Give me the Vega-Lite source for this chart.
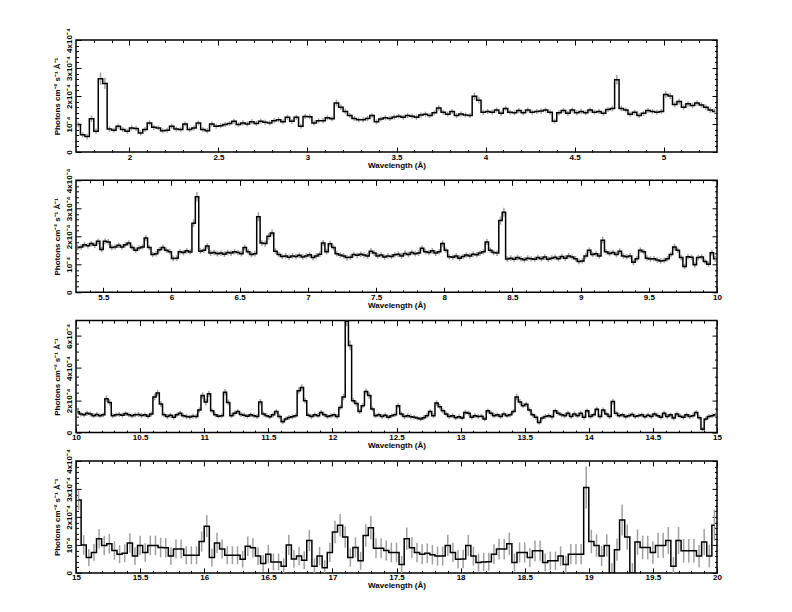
{
"$schema": "https://vega.github.io/schema/vega-lite/v6.json",
"background": "white",
"padding": {"left": 52, "top": 26, "right": 10, "bottom": 5},
"spacing": 28.3,
"bounds": "flush",
"config": {
  "view": {"stroke": "black", "strokeWidth": 1.5},
  "font": "Liberation Sans",
  "axis": {"labelFont": "Liberation Sans", "labelFontSize": 8, "labelFontWeight": "bold", "labelColor": "black", "titleFont": "Liberation Sans", "titleFontSize": 8, "titleFontWeight": "bold", "titleColor": "black", "grid": false, "domain": false, "tickColor": "black", "tickWidth": 1, "labelFlush": false, "labelOverlap": false}
},
"datasets": {
"p1": [
{"w":1.7125,"f":0.98e-4,"e":0.1e-4},{"w":1.7375,"f":0.62e-4,"e":0.1e-4},{"w":1.7625,"f":0.55e-4,"e":0.1e-4},{"w":1.7875,"f":1.19e-4,"e":0.12e-4},{"w":1.8125,"f":0.74e-4,"e":0.1e-4},{"w":1.8375,"f":2.62e-4,"e":0.22e-4},{"w":1.8625,"f":2.45e-4,"e":0.2e-4},{"w":1.8875,"f":0.82e-4,"e":0.1e-4},
{"w":1.9125,"f":0.78e-4,"e":0.09e-4},{"w":1.9375,"f":0.92e-4,"e":0.09e-4},{"w":1.9625,"f":0.8e-4,"e":0.09e-4},{"w":1.9875,"f":0.74e-4,"e":0.09e-4},{"w":2.0125,"f":0.86e-4,"e":0.09e-4},{"w":2.0375,"f":0.84e-4,"e":0.09e-4},{"w":2.0625,"f":0.68e-4,"e":0.09e-4},{"w":2.0875,"f":0.8e-4,"e":0.09e-4},
{"w":2.1125,"f":1.04e-4,"e":0.09e-4},{"w":2.1375,"f":0.88e-4,"e":0.09e-4},{"w":2.1625,"f":0.86e-4,"e":0.09e-4},{"w":2.1875,"f":0.76e-4,"e":0.09e-4},{"w":2.2125,"f":0.78e-4,"e":0.09e-4},{"w":2.2375,"f":0.92e-4,"e":0.09e-4},{"w":2.2625,"f":0.82e-4,"e":0.09e-4},{"w":2.2875,"f":0.8e-4,"e":0.09e-4},
{"w":2.3125,"f":1.0e-4,"e":0.09e-4},{"w":2.3375,"f":0.8e-4,"e":0.09e-4},{"w":2.3625,"f":0.86e-4,"e":0.09e-4},{"w":2.3875,"f":1.04e-4,"e":0.09e-4},{"w":2.4125,"f":0.8e-4,"e":0.09e-4},{"w":2.4375,"f":0.76e-4,"e":0.09e-4},{"w":2.4625,"f":1.0e-4,"e":0.09e-4},{"w":2.4875,"f":0.92e-4,"e":0.09e-4},
{"w":2.5125,"f":0.94e-4,"e":0.09e-4},{"w":2.5375,"f":0.98e-4,"e":0.09e-4},{"w":2.5625,"f":1.02e-4,"e":0.09e-4},{"w":2.5875,"f":1.1e-4,"e":0.09e-4},{"w":2.6125,"f":0.98e-4,"e":0.09e-4},{"w":2.6375,"f":1.04e-4,"e":0.09e-4},{"w":2.6625,"f":1.0e-4,"e":0.09e-4},{"w":2.6875,"f":1.08e-4,"e":0.09e-4},
{"w":2.7125,"f":1.02e-4,"e":0.09e-4},{"w":2.7375,"f":1.1e-4,"e":0.09e-4},{"w":2.7625,"f":1.06e-4,"e":0.09e-4},{"w":2.7875,"f":1.04e-4,"e":0.09e-4},{"w":2.8125,"f":1.12e-4,"e":0.09e-4},{"w":2.8375,"f":1.15e-4,"e":0.09e-4},{"w":2.8625,"f":1.08e-4,"e":0.09e-4},{"w":2.8875,"f":1.24e-4,"e":0.09e-4},
{"w":2.9125,"f":1.1e-4,"e":0.09e-4},{"w":2.9375,"f":1.24e-4,"e":0.09e-4},{"w":2.9625,"f":0.92e-4,"e":0.09e-4},{"w":2.9875,"f":1.27e-4,"e":0.09e-4},{"w":3.0125,"f":1.26e-4,"e":0.09e-4},{"w":3.0375,"f":1.04e-4,"e":0.09e-4},{"w":3.0625,"f":1.12e-4,"e":0.09e-4},{"w":3.0875,"f":1.12e-4,"e":0.09e-4},
{"w":3.1125,"f":1.22e-4,"e":0.09e-4},{"w":3.1375,"f":1.19e-4,"e":0.09e-4},{"w":3.1625,"f":1.75e-4,"e":0.12e-4},{"w":3.1875,"f":1.6e-4,"e":0.1e-4},{"w":3.2125,"f":1.45e-4,"e":0.1e-4},{"w":3.2375,"f":1.3e-4,"e":0.09e-4},{"w":3.2625,"f":1.2e-4,"e":0.09e-4},{"w":3.2875,"f":1.15e-4,"e":0.09e-4},
{"w":3.3125,"f":1.15e-4,"e":0.09e-4},{"w":3.3375,"f":1.2e-4,"e":0.09e-4},{"w":3.3625,"f":1.3e-4,"e":0.09e-4},{"w":3.3875,"f":1.08e-4,"e":0.09e-4},{"w":3.4125,"f":1.18e-4,"e":0.09e-4},{"w":3.4375,"f":1.22e-4,"e":0.09e-4},{"w":3.4625,"f":1.2e-4,"e":0.09e-4},{"w":3.4875,"f":1.25e-4,"e":0.09e-4},
{"w":3.5125,"f":1.28e-4,"e":0.09e-4},{"w":3.5375,"f":1.24e-4,"e":0.09e-4},{"w":3.5625,"f":1.3e-4,"e":0.09e-4},{"w":3.5875,"f":1.28e-4,"e":0.09e-4},{"w":3.6125,"f":1.24e-4,"e":0.09e-4},{"w":3.6375,"f":1.32e-4,"e":0.09e-4},{"w":3.6625,"f":1.35e-4,"e":0.09e-4},{"w":3.6875,"f":1.3e-4,"e":0.09e-4},
{"w":3.7125,"f":1.4e-4,"e":0.09e-4},{"w":3.7375,"f":1.57e-4,"e":0.1e-4},{"w":3.7625,"f":1.42e-4,"e":0.09e-4},{"w":3.7875,"f":1.35e-4,"e":0.09e-4},{"w":3.8125,"f":1.45e-4,"e":0.09e-4},{"w":3.8375,"f":1.3e-4,"e":0.09e-4},{"w":3.8625,"f":1.36e-4,"e":0.09e-4},{"w":3.8875,"f":1.32e-4,"e":0.09e-4},
{"w":3.9125,"f":1.3e-4,"e":0.09e-4},{"w":3.9375,"f":1.99e-4,"e":0.13e-4},{"w":3.9625,"f":1.85e-4,"e":0.12e-4},{"w":3.9875,"f":1.42e-4,"e":0.09e-4},{"w":4.0125,"f":1.45e-4,"e":0.09e-4},{"w":4.0375,"f":1.42e-4,"e":0.09e-4},{"w":4.0625,"f":1.5e-4,"e":0.09e-4},{"w":4.0875,"f":1.38e-4,"e":0.09e-4},
{"w":4.1125,"f":1.55e-4,"e":0.09e-4},{"w":4.1375,"f":1.42e-4,"e":0.09e-4},{"w":4.1625,"f":1.4e-4,"e":0.09e-4},{"w":4.1875,"f":1.48e-4,"e":0.09e-4},{"w":4.2125,"f":1.4e-4,"e":0.09e-4},{"w":4.2375,"f":1.5e-4,"e":0.09e-4},{"w":4.2625,"f":1.42e-4,"e":0.09e-4},{"w":4.2875,"f":1.45e-4,"e":0.09e-4},
{"w":4.3125,"f":1.46e-4,"e":0.09e-4},{"w":4.3375,"f":1.5e-4,"e":0.09e-4},{"w":4.3625,"f":1.42e-4,"e":0.09e-4},{"w":4.3875,"f":1.1e-4,"e":0.09e-4},{"w":4.4125,"f":1.4e-4,"e":0.09e-4},{"w":4.4375,"f":1.48e-4,"e":0.09e-4},{"w":4.4625,"f":1.38e-4,"e":0.09e-4},{"w":4.4875,"f":1.5e-4,"e":0.09e-4},
{"w":4.5125,"f":1.4e-4,"e":0.09e-4},{"w":4.5375,"f":1.45e-4,"e":0.09e-4},{"w":4.5625,"f":1.4e-4,"e":0.09e-4},{"w":4.5875,"f":1.5e-4,"e":0.09e-4},{"w":4.6125,"f":1.42e-4,"e":0.09e-4},{"w":4.6375,"f":1.45e-4,"e":0.09e-4},{"w":4.6625,"f":1.38e-4,"e":0.09e-4},{"w":4.6875,"f":1.52e-4,"e":0.09e-4},
{"w":4.7125,"f":1.55e-4,"e":0.1e-4},{"w":4.7375,"f":2.58e-4,"e":0.17e-4},{"w":4.7625,"f":1.55e-4,"e":0.1e-4},{"w":4.7875,"f":1.5e-4,"e":0.09e-4},{"w":4.8125,"f":1.35e-4,"e":0.09e-4},{"w":4.8375,"f":1.42e-4,"e":0.09e-4},{"w":4.8625,"f":1.3e-4,"e":0.09e-4},{"w":4.8875,"f":1.38e-4,"e":0.09e-4},
{"w":4.9125,"f":1.48e-4,"e":0.09e-4},{"w":4.9375,"f":1.45e-4,"e":0.09e-4},{"w":4.9625,"f":1.42e-4,"e":0.09e-4},{"w":4.9875,"f":1.45e-4,"e":0.09e-4},{"w":5.0125,"f":2.05e-4,"e":0.12e-4},{"w":5.0375,"f":2.0e-4,"e":0.12e-4},{"w":5.0625,"f":1.7e-4,"e":0.1e-4},{"w":5.0875,"f":1.8e-4,"e":0.1e-4},
{"w":5.1125,"f":1.6e-4,"e":0.1e-4},{"w":5.1375,"f":1.72e-4,"e":0.1e-4},{"w":5.1625,"f":1.66e-4,"e":0.1e-4},{"w":5.1875,"f":1.75e-4,"e":0.1e-4},{"w":5.2125,"f":1.68e-4,"e":0.1e-4},{"w":5.2375,"f":1.6e-4,"e":0.1e-4},{"w":5.2625,"f":1.5e-4,"e":0.1e-4},{"w":5.2875,"f":1.45e-4,"e":0.1e-4}
],
"p2": [
{"w":5.3125,"f":1.6e-4,"e":0.1e-4},{"w":5.3375,"f":1.62e-4,"e":0.1e-4},{"w":5.3625,"f":1.7e-4,"e":0.1e-4},{"w":5.3875,"f":1.66e-4,"e":0.1e-4},{"w":5.4125,"f":1.74e-4,"e":0.1e-4},{"w":5.4375,"f":1.68e-4,"e":0.1e-4},{"w":5.4625,"f":1.82e-4,"e":0.1e-4},{"w":5.4875,"f":1.53e-4,"e":0.1e-4},
{"w":5.5125,"f":1.82e-4,"e":0.1e-4},{"w":5.5375,"f":1.8e-4,"e":0.1e-4},{"w":5.5625,"f":1.6e-4,"e":0.1e-4},{"w":5.5875,"f":1.62e-4,"e":0.1e-4},{"w":5.6125,"f":1.68e-4,"e":0.1e-4},{"w":5.6375,"f":1.62e-4,"e":0.1e-4},{"w":5.6625,"f":1.7e-4,"e":0.1e-4},{"w":5.6875,"f":1.76e-4,"e":0.1e-4},
{"w":5.7125,"f":1.6e-4,"e":0.1e-4},{"w":5.7375,"f":1.5e-4,"e":0.1e-4},{"w":5.7625,"f":1.58e-4,"e":0.1e-4},{"w":5.7875,"f":1.62e-4,"e":0.1e-4},{"w":5.8125,"f":1.94e-4,"e":0.11e-4},{"w":5.8375,"f":1.6e-4,"e":0.1e-4},{"w":5.8625,"f":1.35e-4,"e":0.1e-4},{"w":5.8875,"f":1.38e-4,"e":0.1e-4},
{"w":5.9125,"f":1.52e-4,"e":0.1e-4},{"w":5.9375,"f":1.6e-4,"e":0.1e-4},{"w":5.9625,"f":1.5e-4,"e":0.1e-4},{"w":5.9875,"f":1.45e-4,"e":0.1e-4},{"w":6.0125,"f":1.21e-4,"e":0.1e-4},{"w":6.0375,"f":1.22e-4,"e":0.1e-4},{"w":6.0625,"f":1.45e-4,"e":0.1e-4},{"w":6.0875,"f":1.42e-4,"e":0.1e-4},
{"w":6.1125,"f":1.48e-4,"e":0.1e-4},{"w":6.1375,"f":1.44e-4,"e":0.1e-4},{"w":6.1625,"f":2.47e-4,"e":0.14e-4},{"w":6.1875,"f":3.41e-4,"e":0.17e-4},{"w":6.2125,"f":1.47e-4,"e":0.1e-4},{"w":6.2375,"f":1.5e-4,"e":0.1e-4},{"w":6.2625,"f":1.65e-4,"e":0.1e-4},{"w":6.2875,"f":1.4e-4,"e":0.1e-4},
{"w":6.3125,"f":1.42e-4,"e":0.1e-4},{"w":6.3375,"f":1.38e-4,"e":0.1e-4},{"w":6.3625,"f":1.4e-4,"e":0.1e-4},{"w":6.3875,"f":1.36e-4,"e":0.1e-4},{"w":6.4125,"f":1.42e-4,"e":0.1e-4},{"w":6.4375,"f":1.4e-4,"e":0.1e-4},{"w":6.4625,"f":1.45e-4,"e":0.1e-4},{"w":6.4875,"f":1.42e-4,"e":0.1e-4},
{"w":6.5125,"f":1.38e-4,"e":0.1e-4},{"w":6.5375,"f":1.6e-4,"e":0.1e-4},{"w":6.5625,"f":1.45e-4,"e":0.1e-4},{"w":6.5875,"f":1.35e-4,"e":0.1e-4},{"w":6.6125,"f":1.38e-4,"e":0.1e-4},{"w":6.6375,"f":2.7e-4,"e":0.16e-4},{"w":6.6625,"f":1.76e-4,"e":0.11e-4},{"w":6.6875,"f":1.74e-4,"e":0.11e-4},
{"w":6.7125,"f":2.0e-4,"e":0.12e-4},{"w":6.7375,"f":2.12e-4,"e":0.12e-4},{"w":6.7625,"f":1.47e-4,"e":0.1e-4},{"w":6.7875,"f":1.35e-4,"e":0.1e-4},{"w":6.8125,"f":1.28e-4,"e":0.1e-4},{"w":6.8375,"f":1.3e-4,"e":0.1e-4},{"w":6.8625,"f":1.25e-4,"e":0.1e-4},{"w":6.8875,"f":1.3e-4,"e":0.1e-4},
{"w":6.9125,"f":1.28e-4,"e":0.1e-4},{"w":6.9375,"f":1.32e-4,"e":0.1e-4},{"w":6.9625,"f":1.26e-4,"e":0.1e-4},{"w":6.9875,"f":1.3e-4,"e":0.1e-4},{"w":7.0125,"f":1.34e-4,"e":0.1e-4},{"w":7.0375,"f":1.24e-4,"e":0.1e-4},{"w":7.0625,"f":1.3e-4,"e":0.1e-4},{"w":7.0875,"f":1.36e-4,"e":0.1e-4},
{"w":7.1125,"f":1.76e-4,"e":0.11e-4},{"w":7.1375,"f":1.45e-4,"e":0.1e-4},{"w":7.1625,"f":1.73e-4,"e":0.11e-4},{"w":7.1875,"f":1.6e-4,"e":0.1e-4},{"w":7.2125,"f":1.38e-4,"e":0.1e-4},{"w":7.2375,"f":1.33e-4,"e":0.1e-4},{"w":7.2625,"f":1.3e-4,"e":0.1e-4},{"w":7.2875,"f":1.24e-4,"e":0.1e-4},
{"w":7.3125,"f":1.25e-4,"e":0.1e-4},{"w":7.3375,"f":1.35e-4,"e":0.1e-4},{"w":7.3625,"f":1.32e-4,"e":0.1e-4},{"w":7.3875,"f":1.36e-4,"e":0.1e-4},{"w":7.4125,"f":1.33e-4,"e":0.1e-4},{"w":7.4375,"f":1.3e-4,"e":0.1e-4},{"w":7.4625,"f":1.47e-4,"e":0.1e-4},{"w":7.4875,"f":1.4e-4,"e":0.1e-4},
{"w":7.5125,"f":1.3e-4,"e":0.1e-4},{"w":7.5375,"f":1.33e-4,"e":0.1e-4},{"w":7.5625,"f":1.26e-4,"e":0.1e-4},{"w":7.5875,"f":1.3e-4,"e":0.1e-4},{"w":7.6125,"f":1.28e-4,"e":0.1e-4},{"w":7.6375,"f":1.34e-4,"e":0.1e-4},{"w":7.6625,"f":1.36e-4,"e":0.1e-4},{"w":7.6875,"f":1.3e-4,"e":0.1e-4},
{"w":7.7125,"f":1.39e-4,"e":0.1e-4},{"w":7.7375,"f":1.35e-4,"e":0.1e-4},{"w":7.7625,"f":1.42e-4,"e":0.1e-4},{"w":7.7875,"f":1.38e-4,"e":0.1e-4},{"w":7.8125,"f":1.4e-4,"e":0.1e-4},{"w":7.8375,"f":1.57e-4,"e":0.1e-4},{"w":7.8625,"f":1.45e-4,"e":0.1e-4},{"w":7.8875,"f":1.42e-4,"e":0.1e-4},
{"w":7.9125,"f":1.48e-4,"e":0.1e-4},{"w":7.9375,"f":1.4e-4,"e":0.1e-4},{"w":7.9625,"f":1.45e-4,"e":0.1e-4},{"w":7.9875,"f":1.74e-4,"e":0.11e-4},{"w":8.0125,"f":1.5e-4,"e":0.1e-4},{"w":8.0375,"f":1.27e-4,"e":0.1e-4},{"w":8.0625,"f":1.25e-4,"e":0.1e-4},{"w":8.0875,"f":1.3e-4,"e":0.1e-4},
{"w":8.1125,"f":1.22e-4,"e":0.1e-4},{"w":8.1375,"f":1.28e-4,"e":0.1e-4},{"w":8.1625,"f":1.33e-4,"e":0.1e-4},{"w":8.1875,"f":1.3e-4,"e":0.1e-4},{"w":8.2125,"f":1.36e-4,"e":0.1e-4},{"w":8.2375,"f":1.34e-4,"e":0.1e-4},{"w":8.2625,"f":1.4e-4,"e":0.1e-4},{"w":8.2875,"f":1.45e-4,"e":0.1e-4},
{"w":8.3125,"f":1.8e-4,"e":0.11e-4},{"w":8.3375,"f":1.5e-4,"e":0.1e-4},{"w":8.3625,"f":1.42e-4,"e":0.1e-4},{"w":8.3875,"f":1.4e-4,"e":0.1e-4},{"w":8.4125,"f":2.56e-4,"e":0.15e-4},{"w":8.4375,"f":2.86e-4,"e":0.16e-4},{"w":8.4625,"f":1.19e-4,"e":0.1e-4},{"w":8.4875,"f":1.22e-4,"e":0.1e-4},
{"w":8.5125,"f":1.18e-4,"e":0.1e-4},{"w":8.5375,"f":1.24e-4,"e":0.1e-4},{"w":8.5625,"f":1.2e-4,"e":0.1e-4},{"w":8.5875,"f":1.16e-4,"e":0.1e-4},{"w":8.6125,"f":1.22e-4,"e":0.1e-4},{"w":8.6375,"f":1.2e-4,"e":0.1e-4},{"w":8.6625,"f":1.18e-4,"e":0.1e-4},{"w":8.6875,"f":1.24e-4,"e":0.1e-4},
{"w":8.7125,"f":1.2e-4,"e":0.1e-4},{"w":8.7375,"f":1.26e-4,"e":0.1e-4},{"w":8.7625,"f":1.18e-4,"e":0.1e-4},{"w":8.7875,"f":1.22e-4,"e":0.1e-4},{"w":8.8125,"f":1.25e-4,"e":0.1e-4},{"w":8.8375,"f":1.2e-4,"e":0.1e-4},{"w":8.8625,"f":1.28e-4,"e":0.1e-4},{"w":8.8875,"f":1.22e-4,"e":0.1e-4},
{"w":8.9125,"f":1.3e-4,"e":0.1e-4},{"w":8.9375,"f":1.26e-4,"e":0.1e-4},{"w":8.9625,"f":1.2e-4,"e":0.1e-4},{"w":8.9875,"f":1.1e-4,"e":0.1e-4},{"w":9.0125,"f":1.12e-4,"e":0.1e-4},{"w":9.0375,"f":1.3e-4,"e":0.1e-4},{"w":9.0625,"f":1.5e-4,"e":0.1e-4},{"w":9.0875,"f":1.35e-4,"e":0.1e-4},
{"w":9.1125,"f":1.38e-4,"e":0.1e-4},{"w":9.1375,"f":1.3e-4,"e":0.1e-4},{"w":9.1625,"f":1.86e-4,"e":0.12e-4},{"w":9.1875,"f":1.45e-4,"e":0.1e-4},{"w":9.2125,"f":1.39e-4,"e":0.1e-4},{"w":9.2375,"f":1.42e-4,"e":0.1e-4},{"w":9.2625,"f":1.35e-4,"e":0.1e-4},{"w":9.2875,"f":1.47e-4,"e":0.1e-4},
{"w":9.3125,"f":1.3e-4,"e":0.1e-4},{"w":9.3375,"f":1.27e-4,"e":0.1e-4},{"w":9.3625,"f":1.3e-4,"e":0.1e-4},{"w":9.3875,"f":1.07e-4,"e":0.1e-4},{"w":9.4125,"f":1.2e-4,"e":0.1e-4},{"w":9.4375,"f":1.5e-4,"e":0.1e-4},{"w":9.4625,"f":1.45e-4,"e":0.1e-4},{"w":9.4875,"f":1.22e-4,"e":0.1e-4},
{"w":9.5125,"f":1.19e-4,"e":0.1e-4},{"w":9.5375,"f":1.2e-4,"e":0.1e-4},{"w":9.5625,"f":1.15e-4,"e":0.1e-4},{"w":9.5875,"f":1.12e-4,"e":0.1e-4},{"w":9.6125,"f":1.14e-4,"e":0.1e-4},{"w":9.6375,"f":1.2e-4,"e":0.1e-4},{"w":9.6625,"f":1.35e-4,"e":0.1e-4},{"w":9.6875,"f":1.62e-4,"e":0.11e-4},
{"w":9.7125,"f":1.5e-4,"e":0.1e-4},{"w":9.7375,"f":1.24e-4,"e":0.1e-4},{"w":9.7625,"f":0.92e-4,"e":0.1e-4},{"w":9.7875,"f":1.27e-4,"e":0.1e-4},{"w":9.8125,"f":1.25e-4,"e":0.1e-4},{"w":9.8375,"f":0.98e-4,"e":0.1e-4},{"w":9.8625,"f":1.24e-4,"e":0.1e-4},{"w":9.8875,"f":1.26e-4,"e":0.1e-4},
{"w":9.9125,"f":1.1e-4,"e":0.1e-4},{"w":9.9375,"f":1.0e-4,"e":0.1e-4},{"w":9.9625,"f":1.41e-4,"e":0.1e-4},{"w":9.9875,"f":1.2e-4,"e":0.1e-4}
],
"p3": [
{"w":10.0125,"f":1.29e-4,"e":0.15e-4},{"w":10.0375,"f":1.15e-4,"e":0.15e-4},{"w":10.0625,"f":1.1e-4,"e":0.15e-4},{"w":10.0875,"f":1.2e-4,"e":0.15e-4},{"w":10.1125,"f":1.15e-4,"e":0.15e-4},{"w":10.1375,"f":1.05e-4,"e":0.15e-4},{"w":10.1625,"f":1.12e-4,"e":0.15e-4},{"w":10.1875,"f":1.05e-4,"e":0.15e-4},
{"w":10.2125,"f":1.1e-4,"e":0.15e-4},{"w":10.2375,"f":2.1e-4,"e":0.2e-4},{"w":10.2625,"f":1.87e-4,"e":0.2e-4},{"w":10.2875,"f":1.05e-4,"e":0.15e-4},{"w":10.3125,"f":1.1e-4,"e":0.15e-4},{"w":10.3375,"f":1.12e-4,"e":0.15e-4},{"w":10.3625,"f":1.08e-4,"e":0.15e-4},{"w":10.3875,"f":1.18e-4,"e":0.15e-4},
{"w":10.4125,"f":1.1e-4,"e":0.15e-4},{"w":10.4375,"f":1.04e-4,"e":0.15e-4},{"w":10.4625,"f":1.1e-4,"e":0.15e-4},{"w":10.4875,"f":1.12e-4,"e":0.15e-4},{"w":10.5125,"f":1.06e-4,"e":0.15e-4},{"w":10.5375,"f":1.1e-4,"e":0.15e-4},{"w":10.5625,"f":1.02e-4,"e":0.15e-4},{"w":10.5875,"f":1.15e-4,"e":0.15e-4},
{"w":10.6125,"f":2.2e-4,"e":0.2e-4},{"w":10.6375,"f":2.45e-4,"e":0.2e-4},{"w":10.6625,"f":1.77e-4,"e":0.18e-4},{"w":10.6875,"f":1.1e-4,"e":0.15e-4},{"w":10.7125,"f":1.0e-4,"e":0.15e-4},{"w":10.7375,"f":1.08e-4,"e":0.15e-4},{"w":10.7625,"f":0.95e-4,"e":0.15e-4},{"w":10.7875,"f":1.1e-4,"e":0.15e-4},
{"w":10.8125,"f":1.2e-4,"e":0.15e-4},{"w":10.8375,"f":1.05e-4,"e":0.15e-4},{"w":10.8625,"f":1.0e-4,"e":0.15e-4},{"w":10.8875,"f":0.96e-4,"e":0.15e-4},{"w":10.9125,"f":1.02e-4,"e":0.15e-4},{"w":10.9375,"f":1.0e-4,"e":0.15e-4},{"w":10.9625,"f":1.4e-4,"e":0.15e-4},{"w":10.9875,"f":2.3e-4,"e":0.2e-4},
{"w":11.0125,"f":1.9e-4,"e":0.2e-4},{"w":11.0375,"f":2.4e-4,"e":0.2e-4},{"w":11.0625,"f":1.35e-4,"e":0.15e-4},{"w":11.0875,"f":1.1e-4,"e":0.15e-4},{"w":11.1125,"f":1.02e-4,"e":0.15e-4},{"w":11.1375,"f":1.05e-4,"e":0.15e-4},{"w":11.1625,"f":2.5e-4,"e":0.2e-4},{"w":11.1875,"f":1.87e-4,"e":0.18e-4},
{"w":11.2125,"f":1.05e-4,"e":0.15e-4},{"w":11.2375,"f":1.2e-4,"e":0.15e-4},{"w":11.2625,"f":1.3e-4,"e":0.15e-4},{"w":11.2875,"f":1.12e-4,"e":0.15e-4},{"w":11.3125,"f":1.08e-4,"e":0.15e-4},{"w":11.3375,"f":1.02e-4,"e":0.15e-4},{"w":11.3625,"f":1.1e-4,"e":0.15e-4},{"w":11.3875,"f":1.05e-4,"e":0.15e-4},
{"w":11.4125,"f":1.0e-4,"e":0.15e-4},{"w":11.4375,"f":1.9e-4,"e":0.18e-4},{"w":11.4625,"f":1.15e-4,"e":0.15e-4},{"w":11.4875,"f":1.05e-4,"e":0.15e-4},{"w":11.5125,"f":0.98e-4,"e":0.15e-4},{"w":11.5375,"f":1.1e-4,"e":0.15e-4},{"w":11.5625,"f":1.3e-4,"e":0.15e-4},{"w":11.5875,"f":1.0e-4,"e":0.15e-4},
{"w":11.6125,"f":0.67e-4,"e":0.14e-4},{"w":11.6375,"f":0.85e-4,"e":0.14e-4},{"w":11.6625,"f":0.94e-4,"e":0.15e-4},{"w":11.6875,"f":0.98e-4,"e":0.15e-4},{"w":11.7125,"f":1.05e-4,"e":0.15e-4},{"w":11.7375,"f":2.6e-4,"e":0.2e-4},{"w":11.7625,"f":2.8e-4,"e":0.2e-4},{"w":11.7875,"f":1.98e-4,"e":0.18e-4},
{"w":11.8125,"f":1.08e-4,"e":0.15e-4},{"w":11.8375,"f":1.0e-4,"e":0.15e-4},{"w":11.8625,"f":1.1e-4,"e":0.15e-4},{"w":11.8875,"f":1.05e-4,"e":0.15e-4},{"w":11.9125,"f":1.25e-4,"e":0.15e-4},{"w":11.9375,"f":1.1e-4,"e":0.15e-4},{"w":11.9625,"f":1.0e-4,"e":0.15e-4},{"w":11.9875,"f":1.05e-4,"e":0.15e-4},
{"w":12.0125,"f":1.1e-4,"e":0.15e-4},{"w":12.0375,"f":1.0e-4,"e":0.15e-4},{"w":12.0625,"f":1.56e-4,"e":0.16e-4},{"w":12.0875,"f":2.2e-4,"e":0.2e-4},{"w":12.1125,"f":6.9e-4,"e":0.3e-4},{"w":12.1375,"f":5.4e-4,"e":0.3e-4},{"w":12.1625,"f":1.98e-4,"e":0.18e-4},{"w":12.1875,"f":1.8e-4,"e":0.18e-4},
{"w":12.2125,"f":1.3e-4,"e":0.15e-4},{"w":12.2375,"f":1.67e-4,"e":0.16e-4},{"w":12.2625,"f":2.54e-4,"e":0.2e-4},{"w":12.2875,"f":2.3e-4,"e":0.2e-4},{"w":12.3125,"f":1.46e-4,"e":0.15e-4},{"w":12.3375,"f":1.05e-4,"e":0.15e-4},{"w":12.3625,"f":1.1e-4,"e":0.15e-4},{"w":12.3875,"f":1.0e-4,"e":0.15e-4},
{"w":12.4125,"f":1.08e-4,"e":0.15e-4},{"w":12.4375,"f":0.95e-4,"e":0.15e-4},{"w":12.4625,"f":1.04e-4,"e":0.15e-4},{"w":12.4875,"f":1.1e-4,"e":0.15e-4},{"w":12.5125,"f":1.67e-4,"e":0.16e-4},{"w":12.5375,"f":1.15e-4,"e":0.15e-4},{"w":12.5625,"f":1.0e-4,"e":0.15e-4},{"w":12.5875,"f":1.05e-4,"e":0.15e-4},
{"w":12.6125,"f":0.98e-4,"e":0.15e-4},{"w":12.6375,"f":0.95e-4,"e":0.15e-4},{"w":12.6625,"f":0.9e-4,"e":0.15e-4},{"w":12.6875,"f":0.85e-4,"e":0.15e-4},{"w":12.7125,"f":0.92e-4,"e":0.15e-4},{"w":12.7375,"f":1.05e-4,"e":0.15e-4},{"w":12.7625,"f":1.3e-4,"e":0.15e-4},{"w":12.7875,"f":1.05e-4,"e":0.15e-4},
{"w":12.8125,"f":1.83e-4,"e":0.18e-4},{"w":12.8375,"f":1.6e-4,"e":0.16e-4},{"w":12.8625,"f":1.35e-4,"e":0.15e-4},{"w":12.8875,"f":1.15e-4,"e":0.15e-4},{"w":12.9125,"f":1.0e-4,"e":0.15e-4},{"w":12.9375,"f":1.05e-4,"e":0.15e-4},{"w":12.9625,"f":0.92e-4,"e":0.15e-4},{"w":12.9875,"f":0.98e-4,"e":0.15e-4},
{"w":13.0125,"f":0.9e-4,"e":0.15e-4},{"w":13.0375,"f":1.25e-4,"e":0.15e-4},{"w":13.0625,"f":1.2e-4,"e":0.15e-4},{"w":13.0875,"f":0.95e-4,"e":0.15e-4},{"w":13.1125,"f":1.05e-4,"e":0.15e-4},{"w":13.1375,"f":1.0e-4,"e":0.15e-4},{"w":13.1625,"f":1.02e-4,"e":0.15e-4},{"w":13.1875,"f":0.85e-4,"e":0.15e-4},
{"w":13.2125,"f":1.35e-4,"e":0.15e-4},{"w":13.2375,"f":1.2e-4,"e":0.15e-4},{"w":13.2625,"f":1.05e-4,"e":0.15e-4},{"w":13.2875,"f":1.1e-4,"e":0.15e-4},{"w":13.3125,"f":1.0e-4,"e":0.15e-4},{"w":13.3375,"f":1.15e-4,"e":0.15e-4},{"w":13.3625,"f":1.05e-4,"e":0.15e-4},{"w":13.3875,"f":1.1e-4,"e":0.15e-4},
{"w":13.4125,"f":1.3e-4,"e":0.15e-4},{"w":13.4375,"f":2.2e-4,"e":0.2e-4},{"w":13.4625,"f":1.9e-4,"e":0.18e-4},{"w":13.4875,"f":1.67e-4,"e":0.16e-4},{"w":13.5125,"f":1.75e-4,"e":0.16e-4},{"w":13.5375,"f":1.4e-4,"e":0.15e-4},{"w":13.5625,"f":1.1e-4,"e":0.15e-4},{"w":13.5875,"f":0.95e-4,"e":0.15e-4},
{"w":13.6125,"f":0.62e-4,"e":0.14e-4},{"w":13.6375,"f":0.9e-4,"e":0.15e-4},{"w":13.6625,"f":1.0e-4,"e":0.15e-4},{"w":13.6875,"f":1.05e-4,"e":0.15e-4},{"w":13.7125,"f":0.98e-4,"e":0.15e-4},{"w":13.7375,"f":1.35e-4,"e":0.15e-4},{"w":13.7625,"f":1.2e-4,"e":0.15e-4},{"w":13.7875,"f":1.1e-4,"e":0.15e-4},
{"w":13.8125,"f":1.05e-4,"e":0.15e-4},{"w":13.8375,"f":1.2e-4,"e":0.15e-4},{"w":13.8625,"f":1.0e-4,"e":0.15e-4},{"w":13.8875,"f":1.15e-4,"e":0.15e-4},{"w":13.9125,"f":1.05e-4,"e":0.15e-4},{"w":13.9375,"f":1.2e-4,"e":0.15e-4},{"w":13.9625,"f":0.95e-4,"e":0.15e-4},{"w":13.9875,"f":1.35e-4,"e":0.15e-4},
{"w":14.0125,"f":1.0e-4,"e":0.15e-4},{"w":14.0375,"f":1.1e-4,"e":0.15e-4},{"w":14.0625,"f":1.45e-4,"e":0.15e-4},{"w":14.0875,"f":1.0e-4,"e":0.15e-4},{"w":14.1125,"f":1.4e-4,"e":0.15e-4},{"w":14.1375,"f":1.15e-4,"e":0.15e-4},{"w":14.1625,"f":1.0e-4,"e":0.15e-4},{"w":14.1875,"f":1.92e-4,"e":0.18e-4},
{"w":14.2125,"f":1.2e-4,"e":0.15e-4},{"w":14.2375,"f":1.05e-4,"e":0.15e-4},{"w":14.2625,"f":1.1e-4,"e":0.15e-4},{"w":14.2875,"f":0.98e-4,"e":0.15e-4},{"w":14.3125,"f":1.05e-4,"e":0.15e-4},{"w":14.3375,"f":1.12e-4,"e":0.15e-4},{"w":14.3625,"f":1.0e-4,"e":0.15e-4},{"w":14.3875,"f":1.05e-4,"e":0.15e-4},
{"w":14.4125,"f":1.1e-4,"e":0.15e-4},{"w":14.4375,"f":0.98e-4,"e":0.15e-4},{"w":14.4625,"f":1.08e-4,"e":0.15e-4},{"w":14.4875,"f":1.0e-4,"e":0.15e-4},{"w":14.5125,"f":1.15e-4,"e":0.15e-4},{"w":14.5375,"f":1.05e-4,"e":0.15e-4},{"w":14.5625,"f":0.95e-4,"e":0.15e-4},{"w":14.5875,"f":1.2e-4,"e":0.15e-4},
{"w":14.6125,"f":1.0e-4,"e":0.15e-4},{"w":14.6375,"f":1.1e-4,"e":0.15e-4},{"w":14.6625,"f":0.9e-4,"e":0.15e-4},{"w":14.6875,"f":1.15e-4,"e":0.15e-4},{"w":14.7125,"f":1.02e-4,"e":0.15e-4},{"w":14.7375,"f":0.95e-4,"e":0.15e-4},{"w":14.7625,"f":1.1e-4,"e":0.15e-4},{"w":14.7875,"f":1.0e-4,"e":0.15e-4},
{"w":14.8125,"f":1.05e-4,"e":0.15e-4},{"w":14.8375,"f":1.25e-4,"e":0.15e-4},{"w":14.8625,"f":0.92e-4,"e":0.15e-4},{"w":14.8875,"f":0.2e-4,"e":0.14e-4},{"w":14.9125,"f":0.85e-4,"e":0.15e-4},{"w":14.9375,"f":1.0e-4,"e":0.15e-4},{"w":14.9625,"f":1.05e-4,"e":0.15e-4},{"w":14.9875,"f":1.1e-4,"e":0.15e-4}
],
"p4": [
{"w":15.02,"f":2.6e-4,"e":0.35e-4},{"w":15.06,"f":1.0e-4,"e":0.35e-4},{"w":15.10,"f":0.55e-4,"e":0.3e-4},{"w":15.14,"f":0.73e-4,"e":0.3e-4},{"w":15.18,"f":1.22e-4,"e":0.35e-4},{"w":15.22,"f":0.98e-4,"e":0.35e-4},{"w":15.26,"f":1.04e-4,"e":0.35e-4},{"w":15.30,"f":0.8e-4,"e":0.33e-4},
{"w":15.34,"f":0.67e-4,"e":0.32e-4},{"w":15.38,"f":0.7e-4,"e":0.32e-4},{"w":15.42,"f":1.07e-4,"e":0.35e-4},{"w":15.46,"f":0.6e-4,"e":0.32e-4},{"w":15.50,"f":0.98e-4,"e":0.35e-4},{"w":15.54,"f":0.73e-4,"e":0.33e-4},{"w":15.58,"f":0.98e-4,"e":0.35e-4},{"w":15.62,"f":0.98e-4,"e":0.35e-4},
{"w":15.66,"f":0.91e-4,"e":0.35e-4},{"w":15.70,"f":0.9e-4,"e":0.35e-4},{"w":15.74,"f":0.6e-4,"e":0.32e-4},{"w":15.78,"f":0.85e-4,"e":0.34e-4},{"w":15.82,"f":0.85e-4,"e":0.34e-4},{"w":15.86,"f":0.63e-4,"e":0.32e-4},{"w":15.90,"f":0.63e-4,"e":0.32e-4},{"w":15.94,"f":0.63e-4,"e":0.32e-4},
{"w":15.98,"f":1.12e-4,"e":0.36e-4},{"w":16.02,"f":1.67e-4,"e":0.4e-4},{"w":16.06,"f":0.55e-4,"e":0.32e-4},{"w":16.10,"f":1.07e-4,"e":0.36e-4},{"w":16.14,"f":0.85e-4,"e":0.34e-4},{"w":16.18,"f":0.63e-4,"e":0.32e-4},{"w":16.22,"f":0.63e-4,"e":0.32e-4},{"w":16.26,"f":0.63e-4,"e":0.32e-4},
{"w":16.30,"f":0.49e-4,"e":0.3e-4},{"w":16.34,"f":0.95e-4,"e":0.35e-4},{"w":16.38,"f":0.9e-4,"e":0.35e-4},{"w":16.42,"f":0.6e-4,"e":0.32e-4},{"w":16.46,"f":0.34e-4,"e":0.3e-4},{"w":16.50,"f":0.67e-4,"e":0.33e-4},{"w":16.54,"f":0.39e-4,"e":0.3e-4},{"w":16.58,"f":0.39e-4,"e":0.3e-4},
{"w":16.62,"f":0.24e-4,"e":0.28e-4},{"w":16.66,"f":1.0e-4,"e":0.36e-4},{"w":16.70,"f":0.5e-4,"e":0.32e-4},{"w":16.74,"f":0.6e-4,"e":0.33e-4},{"w":16.78,"f":0.45e-4,"e":0.31e-4},{"w":16.82,"f":1.16e-4,"e":0.38e-4},{"w":16.86,"f":0.24e-4,"e":0.28e-4},{"w":16.90,"f":0.6e-4,"e":0.33e-4},
{"w":16.94,"f":0.18e-4,"e":0.27e-4},{"w":16.98,"f":0.73e-4,"e":0.34e-4},{"w":17.02,"f":1.46e-4,"e":0.4e-4},{"w":17.06,"f":1.7e-4,"e":0.4e-4},{"w":17.10,"f":1.28e-4,"e":0.38e-4},{"w":17.14,"f":0.55e-4,"e":0.33e-4},{"w":17.18,"f":0.91e-4,"e":0.36e-4},{"w":17.22,"f":0.43e-4,"e":0.32e-4},
{"w":17.26,"f":1.34e-4,"e":0.4e-4},{"w":17.30,"f":1.61e-4,"e":0.42e-4},{"w":17.34,"f":0.88e-4,"e":0.36e-4},{"w":17.38,"f":0.88e-4,"e":0.36e-4},{"w":17.42,"f":0.8e-4,"e":0.36e-4},{"w":17.46,"f":0.73e-4,"e":0.35e-4},{"w":17.50,"f":0.73e-4,"e":0.35e-4},{"w":17.54,"f":0.3e-4,"e":0.3e-4},
{"w":17.58,"f":1.22e-4,"e":0.4e-4},{"w":17.62,"f":0.9e-4,"e":0.37e-4},{"w":17.66,"f":0.73e-4,"e":0.35e-4},{"w":17.70,"f":0.67e-4,"e":0.35e-4},{"w":17.74,"f":0.7e-4,"e":0.35e-4},{"w":17.78,"f":0.65e-4,"e":0.35e-4},{"w":17.82,"f":0.6e-4,"e":0.34e-4},{"w":17.86,"f":0.6e-4,"e":0.34e-4},
{"w":17.90,"f":0.98e-4,"e":0.38e-4},{"w":17.94,"f":0.73e-4,"e":0.35e-4},{"w":17.98,"f":0.49e-4,"e":0.33e-4},{"w":18.02,"f":0.5e-4,"e":0.33e-4},{"w":18.06,"f":0.98e-4,"e":0.38e-4},{"w":18.10,"f":0.6e-4,"e":0.34e-4},{"w":18.14,"f":0.37e-4,"e":0.32e-4},{"w":18.18,"f":0.39e-4,"e":0.32e-4},
{"w":18.22,"f":0.4e-4,"e":0.32e-4},{"w":18.26,"f":0.67e-4,"e":0.35e-4},{"w":18.30,"f":0.85e-4,"e":0.37e-4},{"w":18.34,"f":0.85e-4,"e":0.37e-4},{"w":18.38,"f":1.04e-4,"e":0.4e-4},{"w":18.42,"f":0.37e-4,"e":0.32e-4},{"w":18.46,"f":0.73e-4,"e":0.36e-4},{"w":18.50,"f":0.73e-4,"e":0.36e-4},
{"w":18.54,"f":0.55e-4,"e":0.34e-4},{"w":18.58,"f":0.79e-4,"e":0.37e-4},{"w":18.62,"f":0.79e-4,"e":0.37e-4},{"w":18.66,"f":0.37e-4,"e":0.32e-4},{"w":18.70,"f":0.43e-4,"e":0.33e-4},{"w":18.74,"f":0.43e-4,"e":0.33e-4},{"w":18.78,"f":0.6e-4,"e":0.35e-4},{"w":18.82,"f":0.3e-4,"e":0.31e-4},
{"w":18.86,"f":0.67e-4,"e":0.36e-4},{"w":18.90,"f":0.67e-4,"e":0.36e-4},{"w":18.94,"f":0.67e-4,"e":0.36e-4},{"w":18.98,"f":3.05e-4,"e":0.75e-4},{"w":19.02,"f":1.12e-4,"e":0.42e-4},{"w":19.06,"f":0.98e-4,"e":0.4e-4},{"w":19.10,"f":0.6e-4,"e":0.36e-4},{"w":19.14,"f":0.98e-4,"e":0.4e-4},
{"w":19.18,"f":0,"e":0.35e-4},{"w":19.22,"f":0.83e-4,"e":0.4e-4},{"w":19.26,"f":1.89e-4,"e":0.55e-4},{"w":19.30,"f":1.28e-4,"e":0.45e-4},{"w":19.34,"f":0,"e":0.35e-4},{"w":19.38,"f":1.1e-4,"e":0.45e-4},{"w":19.42,"f":0.91e-4,"e":0.42e-4},{"w":19.46,"f":0.91e-4,"e":0.42e-4},
{"w":19.50,"f":0.73e-4,"e":0.4e-4},{"w":19.54,"f":0.98e-4,"e":0.45e-4},{"w":19.58,"f":0.98e-4,"e":0.45e-4},{"w":19.62,"f":1.16e-4,"e":0.48e-4},{"w":19.66,"f":0.24e-4,"e":0.33e-4},{"w":19.70,"f":1.16e-4,"e":0.48e-4},{"w":19.74,"f":0.79e-4,"e":0.42e-4},{"w":19.78,"f":0.79e-4,"e":0.42e-4},
{"w":19.82,"f":0.79e-4,"e":0.42e-4},{"w":19.86,"f":0.6e-4,"e":0.4e-4},{"w":19.90,"f":1.1e-4,"e":0.46e-4},{"w":19.94,"f":0.6e-4,"e":0.4e-4},{"w":19.98,"f":1.7e-4,"e":0.55e-4}
]
},
"vconcat": [
{
 "width": 641, "height": 112,
 "data": {"name": "p1"},
 "resolve": {"axis": {"x": "independent", "y": "independent"}},
 "layer": [
  {"mark": {"type": "errorbar", "color": "#a0a0a0", "thickness": 1.5, "clip": true},
   "encoding": {
    "x": {"field": "w", "type": "quantitative", "scale": {"domain": [1.7, 5.3], "nice": false, "zero": false},
          "axis": {"orient": "bottom", "values": [2, 2.5, 3, 3.5, 4, 4.5, 5], "format": "~g", "tickSize": -5, "labelPadding": 6, "title": "Wavelength (Å)", "titlePadding": 0}},
    "y": {"field": "f", "type": "quantitative", "scale": {"domain": [0, 0.0004], "nice": false},
          "axis": {"orient": "left", "values": [0, 1e-4, 2e-4, 3e-4, 4e-4], "labelExpr": "datum.value == 0 ? '0' : (round(datum.value * 10000) == 1 ? '10⁻⁴' : round(datum.value * 10000) + 'x10⁻⁴')", "tickSize": -5, "labelPadding": 8, "labelAngle": 270, "labelAlign": "center", "labelBaseline": "bottom", "title": "Photons cm⁻² s⁻¹ Å⁻¹", "titlePadding": 4}},
    "yError": {"field": "e"}
   }},
  {"mark": {"type": "line", "interpolate": "step", "color": "black", "strokeWidth": 1.5, "clip": true},
   "encoding": {
    "x": {"field": "w", "type": "quantitative", "axis": {"orient": "top", "values": [2, 2.5, 3, 3.5, 4, 4.5, 5], "labels": false, "tickSize": -5, "title": null}},
    "y": {"field": "f", "type": "quantitative", "axis": {"orient": "right", "values": [0, 1e-4, 2e-4, 3e-4, 4e-4], "labels": false, "tickSize": -5, "title": null}}
   }},
  {"mark": {"type": "point", "opacity": 0, "clip": true},
   "encoding": {
    "x": {"field": "w", "type": "quantitative", "axis": {"orient": "bottom", "values": [1.8,1.9,2.1,2.2,2.3,2.4,2.6,2.7,2.8,2.9,3.1,3.2,3.3,3.4,3.6,3.7,3.8,3.9,4.1,4.2,4.3,4.4,4.6,4.7,4.8,4.9,5.1,5.2], "labels": false, "tickSize": -2.5, "title": null}},
    "y": {"field": "f", "type": "quantitative", "axis": {"orient": "left", "values": [0.2e-4,0.4e-4,0.6e-4,0.8e-4,1.2e-4,1.4e-4,1.6e-4,1.8e-4,2.2e-4,2.4e-4,2.6e-4,2.8e-4,3.2e-4,3.4e-4,3.6e-4,3.8e-4], "labels": false, "tickSize": -2.5, "title": null}}
   }},
  {"mark": {"type": "point", "opacity": 0, "clip": true},
   "encoding": {
    "x": {"field": "w", "type": "quantitative", "axis": {"orient": "top", "values": [1.8,1.9,2.1,2.2,2.3,2.4,2.6,2.7,2.8,2.9,3.1,3.2,3.3,3.4,3.6,3.7,3.8,3.9,4.1,4.2,4.3,4.4,4.6,4.7,4.8,4.9,5.1,5.2], "labels": false, "tickSize": -2.5, "title": null}},
    "y": {"field": "f", "type": "quantitative", "axis": {"orient": "right", "values": [0.2e-4,0.4e-4,0.6e-4,0.8e-4,1.2e-4,1.4e-4,1.6e-4,1.8e-4,2.2e-4,2.4e-4,2.6e-4,2.8e-4,3.2e-4,3.4e-4,3.6e-4,3.8e-4], "labels": false, "tickSize": -2.5, "title": null}}
   }}
 ]
},
{
 "width": 641, "height": 112,
 "data": {"name": "p2"},
 "resolve": {"axis": {"x": "independent", "y": "independent"}},
 "layer": [
  {"mark": {"type": "errorbar", "color": "#a0a0a0", "thickness": 1.5, "clip": true},
   "encoding": {
    "x": {"field": "w", "type": "quantitative", "scale": {"domain": [5.3, 10], "nice": false, "zero": false},
          "axis": {"orient": "bottom", "values": [5.5, 6, 6.5, 7, 7.5, 8, 8.5, 9, 9.5, 10], "format": "~g", "tickSize": -5, "labelPadding": 6, "title": "Wavelength (Å)", "titlePadding": 0}},
    "y": {"field": "f", "type": "quantitative", "scale": {"domain": [0, 0.0004], "nice": false},
          "axis": {"orient": "left", "values": [0, 1e-4, 2e-4, 3e-4, 4e-4], "labelExpr": "datum.value == 0 ? '0' : (round(datum.value * 10000) == 1 ? '10⁻⁴' : round(datum.value * 10000) + 'x10⁻⁴')", "tickSize": -5, "labelPadding": 8, "labelAngle": 270, "labelAlign": "center", "labelBaseline": "bottom", "title": "Photons cm⁻² s⁻¹ Å⁻¹", "titlePadding": 4}},
    "yError": {"field": "e"}
   }},
  {"mark": {"type": "line", "interpolate": "step", "color": "black", "strokeWidth": 1.5, "clip": true},
   "encoding": {
    "x": {"field": "w", "type": "quantitative", "axis": {"orient": "top", "values": [5.5, 6, 6.5, 7, 7.5, 8, 8.5, 9, 9.5, 10], "labels": false, "tickSize": -5, "title": null}},
    "y": {"field": "f", "type": "quantitative", "axis": {"orient": "right", "values": [0, 1e-4, 2e-4, 3e-4, 4e-4], "labels": false, "tickSize": -5, "title": null}}
   }},
  {"mark": {"type": "point", "opacity": 0, "clip": true},
   "encoding": {
    "x": {"field": "w", "type": "quantitative", "axis": {"orient": "bottom", "values": [5.4,5.6,5.7,5.8,5.9,6.1,6.2,6.3,6.4,6.6,6.7,6.8,6.9,7.1,7.2,7.3,7.4,7.6,7.7,7.8,7.9,8.1,8.2,8.3,8.4,8.6,8.7,8.8,8.9,9.1,9.2,9.3,9.4,9.6,9.7,9.8,9.9], "labels": false, "tickSize": -2.5, "title": null}},
    "y": {"field": "f", "type": "quantitative", "axis": {"orient": "left", "values": [0.2e-4,0.4e-4,0.6e-4,0.8e-4,1.2e-4,1.4e-4,1.6e-4,1.8e-4,2.2e-4,2.4e-4,2.6e-4,2.8e-4,3.2e-4,3.4e-4,3.6e-4,3.8e-4], "labels": false, "tickSize": -2.5, "title": null}}
   }},
  {"mark": {"type": "point", "opacity": 0, "clip": true},
   "encoding": {
    "x": {"field": "w", "type": "quantitative", "axis": {"orient": "top", "values": [5.4,5.6,5.7,5.8,5.9,6.1,6.2,6.3,6.4,6.6,6.7,6.8,6.9,7.1,7.2,7.3,7.4,7.6,7.7,7.8,7.9,8.1,8.2,8.3,8.4,8.6,8.7,8.8,8.9,9.1,9.2,9.3,9.4,9.6,9.7,9.8,9.9], "labels": false, "tickSize": -2.5, "title": null}},
    "y": {"field": "f", "type": "quantitative", "axis": {"orient": "right", "values": [0.2e-4,0.4e-4,0.6e-4,0.8e-4,1.2e-4,1.4e-4,1.6e-4,1.8e-4,2.2e-4,2.4e-4,2.6e-4,2.8e-4,3.2e-4,3.4e-4,3.6e-4,3.8e-4], "labels": false, "tickSize": -2.5, "title": null}}
   }}
 ]
},
{
 "width": 641, "height": 112,
 "data": {"name": "p3"},
 "resolve": {"axis": {"x": "independent", "y": "independent"}},
 "layer": [
  {"mark": {"type": "errorbar", "color": "#a0a0a0", "thickness": 1.5, "clip": true},
   "encoding": {
    "x": {"field": "w", "type": "quantitative", "scale": {"domain": [10, 15], "nice": false, "zero": false},
          "axis": {"orient": "bottom", "values": [10, 10.5, 11, 11.5, 12, 12.5, 13, 13.5, 14, 14.5, 15], "format": "~g", "tickSize": -5, "labelPadding": 6, "title": "Wavelength (Å)", "titlePadding": 0}},
    "y": {"field": "f", "type": "quantitative", "scale": {"domain": [0, 0.000694], "nice": false},
          "axis": {"orient": "left", "values": [0, 2e-4, 4e-4, 6e-4], "labelExpr": "datum.value == 0 ? '0' : (round(datum.value * 10000) == 1 ? '10⁻⁴' : round(datum.value * 10000) + 'x10⁻⁴')", "tickSize": -5, "labelPadding": 8, "labelAngle": 270, "labelAlign": "center", "labelBaseline": "bottom", "title": "Photons cm⁻² s⁻¹ Å⁻¹", "titlePadding": 4}},
    "yError": {"field": "e"}
   }},
  {"mark": {"type": "line", "interpolate": "step", "color": "black", "strokeWidth": 1.5, "clip": true},
   "encoding": {
    "x": {"field": "w", "type": "quantitative", "axis": {"orient": "top", "values": [10, 10.5, 11, 11.5, 12, 12.5, 13, 13.5, 14, 14.5, 15], "labels": false, "tickSize": -5, "title": null}},
    "y": {"field": "f", "type": "quantitative", "axis": {"orient": "right", "values": [0, 2e-4, 4e-4, 6e-4], "labels": false, "tickSize": -5, "title": null}}
   }},
  {"mark": {"type": "point", "opacity": 0, "clip": true},
   "encoding": {
    "x": {"field": "w", "type": "quantitative", "axis": {"orient": "bottom", "values": [10.1,10.2,10.3,10.4,10.6,10.7,10.8,10.9,11.1,11.2,11.3,11.4,11.6,11.7,11.8,11.9,12.1,12.2,12.3,12.4,12.6,12.7,12.8,12.9,13.1,13.2,13.3,13.4,13.6,13.7,13.8,13.9,14.1,14.2,14.3,14.4,14.6,14.7,14.8,14.9], "labels": false, "tickSize": -2.5, "title": null}},
    "y": {"field": "f", "type": "quantitative", "axis": {"orient": "left", "values": [0.5e-4,1e-4,1.5e-4,2.5e-4,3e-4,3.5e-4,4.5e-4,5e-4,5.5e-4,6.5e-4], "labels": false, "tickSize": -2.5, "title": null}}
   }},
  {"mark": {"type": "point", "opacity": 0, "clip": true},
   "encoding": {
    "x": {"field": "w", "type": "quantitative", "axis": {"orient": "top", "values": [10.1,10.2,10.3,10.4,10.6,10.7,10.8,10.9,11.1,11.2,11.3,11.4,11.6,11.7,11.8,11.9,12.1,12.2,12.3,12.4,12.6,12.7,12.8,12.9,13.1,13.2,13.3,13.4,13.6,13.7,13.8,13.9,14.1,14.2,14.3,14.4,14.6,14.7,14.8,14.9], "labels": false, "tickSize": -2.5, "title": null}},
    "y": {"field": "f", "type": "quantitative", "axis": {"orient": "right", "values": [0.5e-4,1e-4,1.5e-4,2.5e-4,3e-4,3.5e-4,4.5e-4,5e-4,5.5e-4,6.5e-4], "labels": false, "tickSize": -2.5, "title": null}}
   }}
 ]
},
{
 "width": 641, "height": 112,
 "data": {"name": "p4"},
 "resolve": {"axis": {"x": "independent", "y": "independent"}},
 "layer": [
  {"mark": {"type": "errorbar", "color": "#a0a0a0", "thickness": 1.5, "clip": true},
   "encoding": {
    "x": {"field": "w", "type": "quantitative", "scale": {"domain": [15, 20], "nice": false, "zero": false},
          "axis": {"orient": "bottom", "values": [15, 15.5, 16, 16.5, 17, 17.5, 18, 18.5, 19, 19.5, 20], "format": "~g", "tickSize": -5, "labelPadding": 6, "title": "Wavelength (Å)", "titlePadding": 0}},
    "y": {"field": "f", "type": "quantitative", "scale": {"domain": [0, 0.0004], "nice": false},
          "axis": {"orient": "left", "values": [0, 1e-4, 2e-4, 3e-4, 4e-4], "labelExpr": "datum.value == 0 ? '0' : (round(datum.value * 10000) == 1 ? '10⁻⁴' : round(datum.value * 10000) + 'x10⁻⁴')", "tickSize": -5, "labelPadding": 8, "labelAngle": 270, "labelAlign": "center", "labelBaseline": "bottom", "title": "Photons cm⁻² s⁻¹ Å⁻¹", "titlePadding": 4}},
    "yError": {"field": "e"}
   }},
  {"mark": {"type": "line", "interpolate": "step", "color": "black", "strokeWidth": 1.5, "clip": true},
   "encoding": {
    "x": {"field": "w", "type": "quantitative", "axis": {"orient": "top", "values": [15, 15.5, 16, 16.5, 17, 17.5, 18, 18.5, 19, 19.5, 20], "labels": false, "tickSize": -5, "title": null}},
    "y": {"field": "f", "type": "quantitative", "axis": {"orient": "right", "values": [0, 1e-4, 2e-4, 3e-4, 4e-4], "labels": false, "tickSize": -5, "title": null}}
   }},
  {"mark": {"type": "point", "opacity": 0, "clip": true},
   "encoding": {
    "x": {"field": "w", "type": "quantitative", "axis": {"orient": "bottom", "values": [15.1,15.2,15.3,15.4,15.6,15.7,15.8,15.9,16.1,16.2,16.3,16.4,16.6,16.7,16.8,16.9,17.1,17.2,17.3,17.4,17.6,17.7,17.8,17.9,18.1,18.2,18.3,18.4,18.6,18.7,18.8,18.9,19.1,19.2,19.3,19.4,19.6,19.7,19.8,19.9], "labels": false, "tickSize": -2.5, "title": null}},
    "y": {"field": "f", "type": "quantitative", "axis": {"orient": "left", "values": [0.2e-4,0.4e-4,0.6e-4,0.8e-4,1.2e-4,1.4e-4,1.6e-4,1.8e-4,2.2e-4,2.4e-4,2.6e-4,2.8e-4,3.2e-4,3.4e-4,3.6e-4,3.8e-4], "labels": false, "tickSize": -2.5, "title": null}}
   }},
  {"mark": {"type": "point", "opacity": 0, "clip": true},
   "encoding": {
    "x": {"field": "w", "type": "quantitative", "axis": {"orient": "top", "values": [15.1,15.2,15.3,15.4,15.6,15.7,15.8,15.9,16.1,16.2,16.3,16.4,16.6,16.7,16.8,16.9,17.1,17.2,17.3,17.4,17.6,17.7,17.8,17.9,18.1,18.2,18.3,18.4,18.6,18.7,18.8,18.9,19.1,19.2,19.3,19.4,19.6,19.7,19.8,19.9], "labels": false, "tickSize": -2.5, "title": null}},
    "y": {"field": "f", "type": "quantitative", "axis": {"orient": "right", "values": [0.2e-4,0.4e-4,0.6e-4,0.8e-4,1.2e-4,1.4e-4,1.6e-4,1.8e-4,2.2e-4,2.4e-4,2.6e-4,2.8e-4,3.2e-4,3.4e-4,3.6e-4,3.8e-4], "labels": false, "tickSize": -2.5, "title": null}}
   }}
 ]
}
]
}
